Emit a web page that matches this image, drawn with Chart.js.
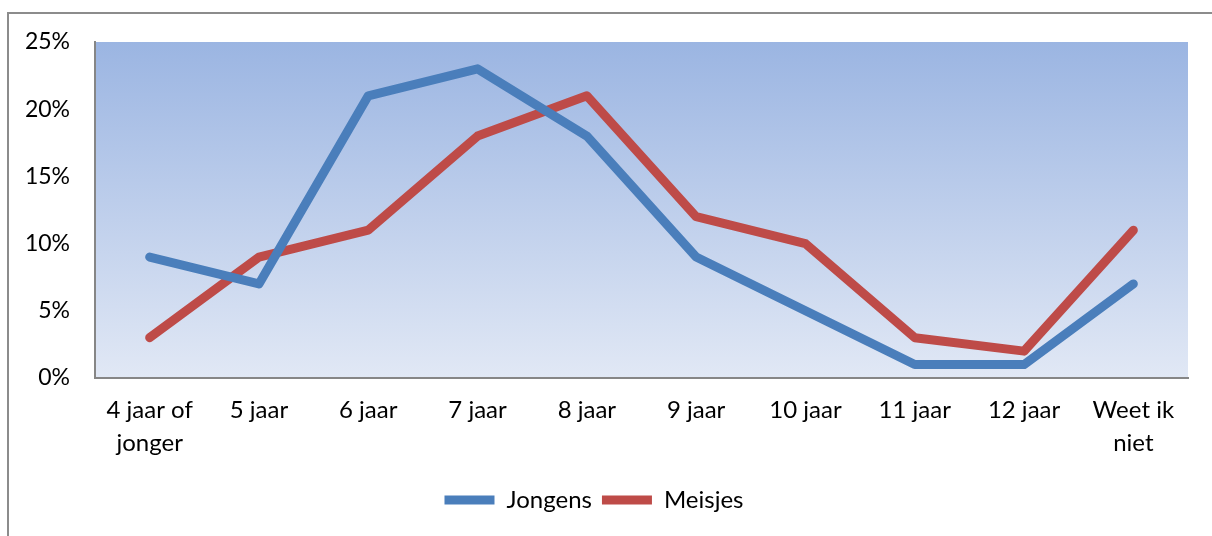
<!DOCTYPE html>
<html>
<head>
<meta charset="utf-8">
<script src="https://cdn.jsdelivr.net/npm/chart.js@4.4.1/dist/chart.umd.min.js"></script>
<style>
  html, body { margin: 0; padding: 0; background: #fff; overflow: hidden; }
  #frame { position: absolute; left: 7px; top: 12px; width: 1300px; height: 700px; border: 2px solid #8c8c8c; }
  #wrap { position: absolute; left: 0; top: 0; width: 1212px; height: 536px; }
</style>
</head>
<body>
<div id="frame"></div>
<div id="wrap"><canvas id="chart-area"></canvas></div>
<script>
var categories = [
    ['4 jaar of', 'jonger'],
    '5 jaar',
    '6 jaar',
    '7 jaar',
    '8 jaar',
    '9 jaar',
    '10 jaar',
    '11 jaar',
    '12 jaar',
    ['Weet ik', 'niet']
];
var jongens = [9, 7, 21, 23, 18, 9, 5, 1, 1, 7];
var meisjes = [3, 9, 11, 18, 21, 12, 10, 3, 2, 11];
var yTicks = [0, 5, 10, 15, 20, 25];

// gradient fill behind the plot area
var plotBackground = {
    id: 'plotBackground',
    beforeDraw: function(chart) {
        var a = chart.chartArea;
        var ctx = chart.ctx;
        var g = ctx.createLinearGradient(0, a.top, 0, a.bottom);
        g.addColorStop(0, '#9bb5e2');
        g.addColorStop(1, '#e1e8f5');
        ctx.save();
        ctx.fillStyle = g;
        ctx.fillRect(a.left, a.top, a.right - a.left, a.bottom - a.top);
        ctx.restore();
    }
};

Chart.defaults.font.family = 'Lato, "Noto Sans", sans-serif';
Chart.defaults.font.size = 23;
Chart.defaults.color = '#000';

var config = {
    type: 'line',
    data: {
        labels: categories,
        datasets: [{
            label: 'Jongens',
            data: jongens,
            borderColor: '#4a7ebb',
            backgroundColor: '#4a7ebb',
            borderWidth: 9,
            borderCapStyle: 'round',
            borderJoinStyle: 'round',
            pointRadius: 0,
            tension: 0
        }, {
            label: 'Meisjes',
            data: meisjes,
            borderColor: '#be4b48',
            backgroundColor: '#be4b48',
            borderWidth: 9,
            borderCapStyle: 'round',
            borderJoinStyle: 'round',
            pointRadius: 0,
            tension: 0
        }]
    },
    options: {
        responsive: true,
        maintainAspectRatio: false,
        animation: false,
        layout: { padding: { top: 42, right: 24, left: 0, bottom: 14 } },
        plugins: {
            tooltip: { enabled: false },
            legend: {
                position: 'bottom',
                labels: {
                    usePointStyle: true,
                    pointStyle: 'line',
                    pointStyleWidth: 50,
                    padding: 10,
                    color: '#000',
                    font: { size: 24 }
                }
            }
        },
        scales: {
            x: {
                offset: true,
                grid: { display: false, drawTicks: false },
                border: { display: true, color: '#868686', width: 2 },
                ticks: {
                    maxRotation: 0,
                    autoSkip: false,
                    padding: 16,
                    font: { size: 24, lineHeight: 1.375 }
                },
                afterFit: function(scale) { scale.height = 100; }
            },
            y: {
                min: 0,
                max: 25,
                afterBuildTicks: function(scale) {
                    scale.ticks = yTicks.map(function(v) { return { value: v }; });
                },
                grid: { display: false, drawTicks: false },
                border: { display: true, color: '#868686', width: 2 },
                ticks: {
                    padding: 25,
                    callback: function(v) { return v + '%'; }
                },
                afterFit: function(scale) { scale.width = 95; }
            }
        }
    },
    plugins: [plotBackground]
};

window.onload = function() {
    var ctx = document.getElementById('chart-area').getContext('2d');
    window.myLine = new Chart(ctx, config);
};
</script>
</body>
</html>
